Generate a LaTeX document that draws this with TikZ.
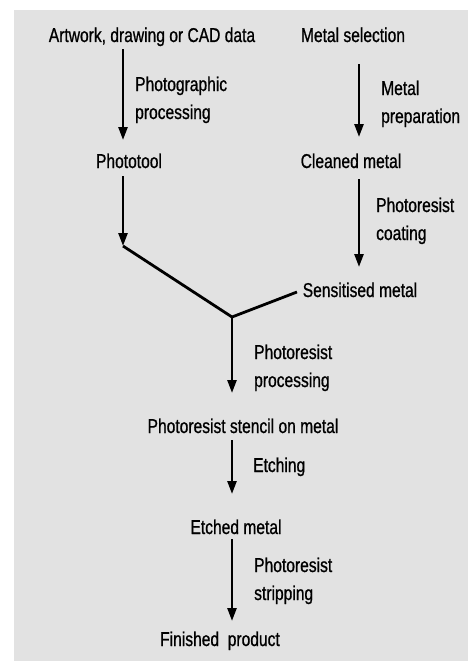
\documentclass[tikz,border=0pt]{standalone}
\usepackage{fontspec}
\setmainfont{Liberation Sans}[FakeStretch=0.78, FakeBold=0.8]
\usetikzlibrary{arrows.meta,positioning}
\definecolor{panelgray}{RGB}{226,226,226}

\begin{document}
\begin{tikzpicture}[x=1pt, y=-1pt,
  every node/.style={font=\fontsize{20}{28}\selectfont, inner sep=0pt},
  stage/.style={anchor=base},
  lbl/.style={anchor=base west, align=left},
  flow/.style={line width=2.5pt, -{Triangle[length=13pt,width=9pt]}},
  joinline/.style={line width=2.8pt}]
  \useasboundingbox (0,0) rectangle (468,661);
  \fill[panelgray] (14,10) rectangle (468,661);

  % columns for the arrows
  \coordinate (colL) at (123,0);
  \coordinate (colR) at (359,0);
  \coordinate (colM) at (232,0);
  \coordinate (bendL) at (123,246);
  \coordinate (merge) at (232,317);

  \node[stage] (artwork) at (152,42) {Artwork, drawing or CAD data};
  \node[stage] (metalsel) at (353,42) {Metal selection};
  \node[stage] (phototool) at (129,168) {Phototool};
  \node[stage] (cleaned) at (351,168) {Cleaned metal};
  \node[stage] (sensitised) at (360,297) {Sensitised metal};
  \node[stage] (stencil) at (243,433) {Photoresist stencil on metal};
  \node[stage] (etched) at (236,534) {Etched metal};
  \node[stage] (finished) at (220,646) {Finished\ \ product};

  % label positions are at the baseline of the second line
  \node[lbl] (photoproc) at (135,119) {Photographic\\processing};
  \node[lbl] (metalprep) at (381,123) {Metal\\preparation};
  \node[lbl] (coating) at (376,240) {Photoresist\\coating};
  \node[lbl] (resistproc) at (254,387) {Photoresist\\processing};
  \node[lbl] (etching) at (253,472) {Etching};
  \node[lbl] (stripping) at (254,600) {Photoresist\\stripping};

  \draw[flow] (artwork.south -| colL) ++(0,3) -- (colL |- 0,140);
  \draw[flow] (metalsel.south -| colR) ++(0,22) -- (colR |- 0,137);
  \draw[flow] (phototool.south -| colL) ++(0,8) -- (bendL);
  \draw[flow] (cleaned.south -| colR) ++(0,11) -- (colR |- 0,267);
  \draw[joinline, shorten >=6pt] (bendL) -- (merge) -- (sensitised.west);
  \draw[flow] (merge) -- (colM |- 0,393);
  \draw[flow] (stencil.south -| colM) ++(0,7) -- (colM |- 0,494);
  \draw[flow] (etched.south -| colM) ++(0,5) -- (colM |- 0,621);
\end{tikzpicture}
\end{document}
